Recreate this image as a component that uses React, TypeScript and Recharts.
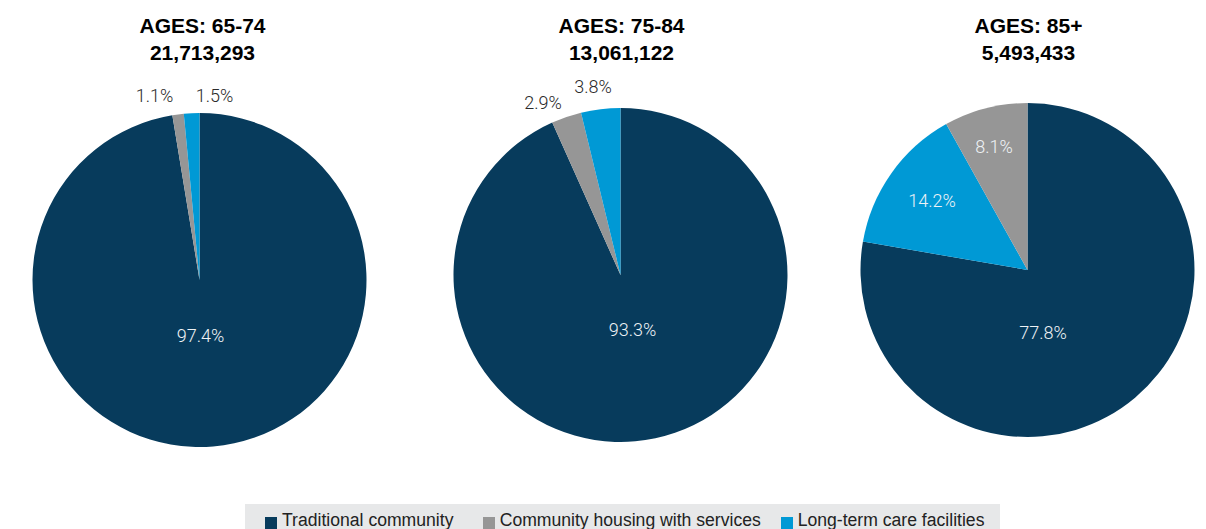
import { Legend, Pie, PieChart } from "recharts";

const CATEGORIES = [
    "Traditional community",
    "Community housing with services",
    "Long-term care facilities",
];
const COLORS = ["#073b5c", "#969696", "#0099d5"];

const AGE_GROUPS = ["AGES: 65-74", "AGES: 75-84", "AGES: 85+"];
const POPULATIONS = ["21,713,293", "13,061,122", "5,493,433"];

// share of each category, in CATEGORIES order (%)
const SHARE_65_74 = [97.4, 1.1, 1.5];
const SHARE_75_84 = [93.3, 2.9, 3.8];
const SHARE_85_PLUS = [77.8, 8.1, 14.2];

// order of the slices going clockwise from 12 o'clock
const SLICE_ORDER = [
    [0, 1, 2],
    [0, 1, 2],
    [0, 2, 1],
];

const SHARES = [SHARE_65_74, SHARE_75_84, SHARE_85_PLUS];

// pie geometry and label placement (offset from pie centre, per category)
const PIE_LAYOUT = [
    {
        cx: 199.5,
        cy: 280,
        labels: [
            { dx: 1, dy: 55, inside: true },
            { dx: -45, dy: -185, inside: false },
            { dx: 15, dy: -185, inside: false },
        ],
    },
    {
        cx: 620.5,
        cy: 275,
        labels: [
            { dx: 12, dy: 54, inside: true },
            { dx: -77.5, dy: -173, inside: false },
            { dx: -27.5, dy: -188.5, inside: false },
        ],
    },
    {
        cx: 1027.5,
        cy: 270,
        labels: [
            { dx: 15.5, dy: 62, inside: true },
            { dx: -33.5, dy: -124, inside: true },
            { dx: -95.5, dy: -70, inside: true },
        ],
    },
];
const RADIUS = 167;

// legend item slot widths (px)
const LEGEND_SLOTS = [217.7, 298, 210];

const FONT = "'Liberation Sans', Arial, Helvetica, sans-serif";

type Slice = { name: string; value: number; cat: number; fill: string };

const buildSlices = (pieIndex: number): Slice[] =>
    SLICE_ORDER[pieIndex].map((cat) => ({
        name: CATEGORIES[cat],
        value: SHARES[pieIndex][cat],
        cat,
        fill: COLORS[cat],
    }));

const makeLabel = (pieIndex: number) => (props: any) => {
    const { cx, cy, payload } = props;
    const cat = payload?.cat ?? props.cat;
    const spot = PIE_LAYOUT[pieIndex].labels[cat];
    return (
        <text
            x={cx + spot.dx}
            y={cy + spot.dy}
            textAnchor="middle"
            dominantBaseline="central"
            fontFamily="Roboto, 'Liberation Sans', sans-serif"
            fontWeight={300}
            fontSize={18}
            fill={spot.inside ? "#eef2f5" : "#2a2a2a"}
        >
            {`${payload?.value ?? props.value}%`}
        </text>
    );
};

const LegendBox = () => (
    <div
        style={{
            position: "absolute",
            left: 245,
            top: 504,
            width: 755,
            height: 30,
            background: "#e7e8e9",
            display: "flex",
            alignItems: "flex-start",
            paddingLeft: 20,
            boxSizing: "border-box",
            fontFamily: FONT,
            fontSize: 17.6,
            color: "#222222",
        }}
    >
        {CATEGORIES.map((c, i) => (
            <div
                key={c}
                style={{
                    display: "flex",
                    alignItems: "center",
                    gap: 5,
                    marginTop: 4,
                    width: LEGEND_SLOTS[i],
                    flexShrink: 0,
                    whiteSpace: "nowrap",
                }}
            >
                <span
                    style={{
                        display: "inline-block",
                        width: 12,
                        height: 12,
                        background: COLORS[i],
                        marginTop: 6,
                        flexShrink: 0,
                    }}
                />
                <span style={{ lineHeight: "24px" }}>{c}</span>
            </div>
        ))}
    </div>
);

export default function App() {
    return (
        <div
            style={{
                position: "absolute",
                left: 0,
                top: 0,
                width: 1206,
                height: 529,
                overflow: "hidden",
                background: "#ffffff",
            }}
        >
            <PieChart width={1206} height={529} margin={{ top: 0, right: 0, bottom: 0, left: 0 }}>
                {PIE_LAYOUT.map((p, i) => (
                    <Pie
                        key={AGE_GROUPS[i]}
                        data={buildSlices(i)}
                        dataKey="value"
                        nameKey="name"
                        cx={p.cx}
                        cy={p.cy}
                        outerRadius={RADIUS}
                        startAngle={90}
                        endAngle={-270}
                        stroke="none"
                        label={makeLabel(i)}
                        labelLine={false}
                        isAnimationActive={false}
                    />
                ))}
                <Legend content={() => null} />
            </PieChart>
            {PIE_LAYOUT.map((p, i) => (
                <div
                    key={AGE_GROUPS[i]}
                    style={{
                        position: "absolute",
                        left: p.cx - 150 + (i === 0 ? 3 : 1),
                        top: 12,
                        width: 300,
                        textAlign: "center",
                        fontFamily: FONT,
                        fontWeight: 700,
                        fontSize: 21,
                        lineHeight: "27px",
                        color: "#000000",
                    }}
                >
                    <div>{AGE_GROUPS[i]}</div>
                    <div>{POPULATIONS[i]}</div>
                </div>
            ))}
            <LegendBox />
        </div>
    );
}
